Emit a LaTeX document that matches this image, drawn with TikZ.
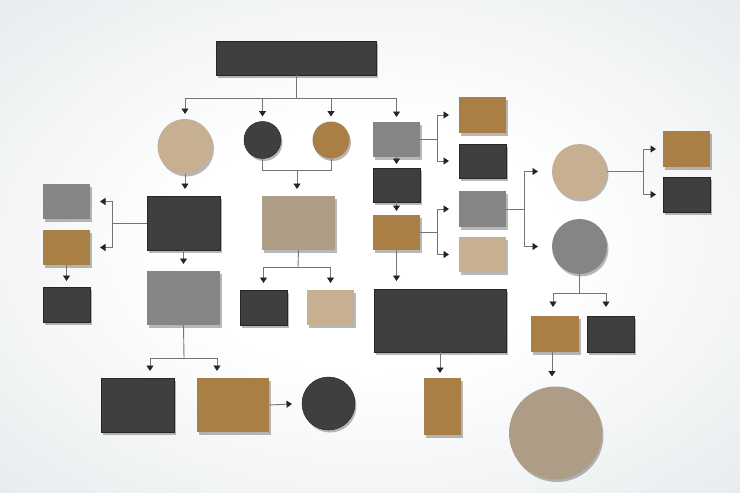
\documentclass[tikz,border=0pt]{standalone}
\usetikzlibrary{arrows.meta,shadows}
\definecolor{cdark}{HTML}{3E403F}
\definecolor{cgrey}{HTML}{838685}
\definecolor{cbrown}{HTML}{A97F46}
\definecolor{ctan}{HTML}{C7AF91}
\definecolor{ctaupe}{HTML}{AE9D86}
\definecolor{cline}{HTML}{757575}
\definecolor{carrow}{HTML}{252525}
\definecolor{bgin}{HTML}{E6EAEC}
\definecolor{bgmid}{HTML}{DCE1E4}
\definecolor{bgedge}{HTML}{D2D8DB}
\pgfdeclareradialshading{bgshade}{\pgfpoint{0bp}{0bp}}{color(0bp)=(white); color(12bp)=(white); color(36bp)=(bgin); color(50bp)=(bgmid); color(72bp)=(bgedge)}
\begin{document}
\begin{tikzpicture}[x=1pt,y=-1pt,
  shape base/.style={inner sep=0pt, outer sep=0pt,
    drop shadow={shadow xshift=1.5pt, shadow yshift=-2.5pt, opacity=0.28, fill=black}},
  boxnode/.style={shape base, rectangle},
  roundnode/.style={shape base, circle},
  darkfill/.style={fill=cdark, draw=black!85, line width=0.5pt},
  greyfill/.style={fill=cgrey},
  brownfill/.style={fill=cbrown},
  tanfill/.style={fill=ctan},
  taupefill/.style={fill=ctaupe},
  wire/.style={draw=cline, line width=0.9pt},
  arr/.style={wire, -{Triangle[width=7pt,length=5.5pt,color=carrow]}, shorten >=5pt},
  harr/.style={arr, shorten >=10pt},
]
\useasboundingbox (0,0) rectangle (740,493);
\shade[shading=bgshade] (-20,-10) rectangle (760,503);

% ---- nodes ----
\node[boxnode, darkfill, minimum width=160pt, minimum height=34pt] (t) at (296,58) {};
\node[roundnode, tanfill, minimum size=55pt] (c1) at (185,146.5) {};
\node[roundnode, darkfill, minimum size=37pt] (c2) at (262.5,140) {};
\node[roundnode, brownfill, minimum size=37pt] (c3) at (331,140) {};

\node[boxnode, darkfill, minimum width=73pt, minimum height=54pt] (d1) at (183.5,223) {};
\node[boxnode, taupefill, minimum width=73pt, minimum height=54pt] (tg1) at (298.5,223) {};

\node[boxnode, greyfill, minimum width=47pt, minimum height=35pt] (L1) at (66.5,201.5) {};
\node[boxnode, brownfill, minimum width=47pt, minimum height=35pt] (L2) at (66.5,247.5) {};
\node[boxnode, darkfill, minimum width=47pt, minimum height=35pt] (L3) at (66.5,304.5) {};

\node[boxnode, greyfill, minimum width=73pt, minimum height=54pt] (gr2) at (183.5,298) {};
\node[boxnode, darkfill, minimum width=73pt, minimum height=54pt] (d2) at (137.5,405) {};
\node[boxnode, brownfill, minimum width=72pt, minimum height=54pt] (b2) at (233,405) {};
\node[roundnode, darkfill, minimum size=53pt] (cd) at (328.5,403.5) {};

\node[boxnode, darkfill, minimum width=47pt, minimum height=35pt] (d3) at (263.5,307.5) {};
\node[boxnode, tanfill, minimum width=47pt, minimum height=35pt] (t3) at (330.5,307.5) {};

\node[boxnode, greyfill, minimum width=47pt, minimum height=35pt] (g1) at (396.5,139.5) {};
\node[boxnode, darkfill, minimum width=47pt, minimum height=34pt] (d4) at (396.5,185) {};
\node[boxnode, brownfill, minimum width=47pt, minimum height=35pt] (b4) at (396.5,232.5) {};

\node[boxnode, brownfill, minimum width=47pt, minimum height=36pt] (R1) at (482.5,115) {};
\node[boxnode, darkfill, minimum width=47pt, minimum height=34pt] (R2) at (482.5,161) {};
\node[boxnode, greyfill, minimum width=47pt, minimum height=36pt] (R3) at (482.5,209) {};
\node[boxnode, tanfill, minimum width=47pt, minimum height=35pt] (R4) at (482.5,254.5) {};

\node[roundnode, tanfill, minimum size=55pt] (Ct) at (579.5,171.5) {};
\node[roundnode, greyfill, minimum size=55pt] (Cg) at (579.5,246.5) {};

\node[boxnode, brownfill, minimum width=47pt, minimum height=36pt] (F1) at (686.5,149) {};
\node[boxnode, darkfill, minimum width=47pt, minimum height=35pt] (F2) at (686.5,194.5) {};

\node[boxnode, brownfill, minimum width=48pt, minimum height=36pt] (G1) at (555,334) {};
\node[boxnode, darkfill, minimum width=47pt, minimum height=36pt] (G2) at (610.5,334) {};
\node[roundnode, taupefill, minimum size=93pt] (CB) at (555.5,433) {};

\node[boxnode, darkfill, minimum width=132pt, minimum height=63pt] (BD) at (440,320.5) {};
\node[boxnode, brownfill, minimum width=37pt, minimum height=57pt] (BT) at (442.5,406.5) {};

% ---- junction points ----
\coordinate (j1) at (296,98);
\coordinate (j2) at (297,170);
\coordinate (j3) at (112,223);
\coordinate (j4) at (184,358);
\coordinate (j5) at (298,267);
\coordinate (j6) at (437,139.5);
\coordinate (j7) at (437,232.5);
\coordinate (j8) at (524,209);
\coordinate (j9) at (643,171.5);
\coordinate (j10) at (579.5,293);

% ---- connectors ----
\draw[wire] (t.south) -- (j1);
\draw[arr] (j1) -| (c1.north);
\draw[arr] (j1) -| (c2.north);
\draw[arr] (j1) -| (c3.north);
\draw[arr] (j1) -| (g1.north);

\draw[wire] (c2.south) |- (j2);
\draw[wire] (c3.south) |- (j2);
\draw[arr, shorten >=7pt] (j2) -- (j2 |- tg1.north);

\draw[arr, shorten >=7pt] (c1.south) -- (c1.south |- d1.north);

\draw[wire] (d1.west) -- (j3);
\draw[harr] (j3) |- (L1.east);
\draw[harr] (j3) |- (L2.east);
\draw[arr, shorten >=6pt] (L2.south) -- (L3.north);

\draw[arr, shorten >=7pt] (d1.south) -- (gr2.north);
\draw[wire] (gr2.south) -- (j4);
\draw[arr, shorten >=7pt] (j4) -| ([xshift=12.5pt]d2.north);
\draw[arr, shorten >=7pt] (j4) -| ([xshift=-16pt]b2.north);
\draw[harr] (b2.east) -- (cd.west);

\draw[wire] (tg1.south) -- (j5);
\draw[arr, shorten >=7pt] (j5) -| (d3.north);
\draw[arr, shorten >=7pt] (j5) -| (t3.north);

\draw[arr, shorten >=4pt] (g1.south) -- (d4.north);
\draw[arr, shorten >=4pt] (d4.south) -- (b4.north);

\draw[wire] (g1.east) -- (j6);
\draw[harr] (j6) |- (R1.west);
\draw[harr] (j6) |- (R2.west);
\draw[wire] (b4.east) -- (j7);
\draw[harr] (j7) |- (R3.west);
\draw[harr] (j7) |- (R4.west);

\draw[wire] (R3.east) -- (j8);
\draw[arr, shorten >=14pt] (j8) |- (Ct.west);
\draw[arr, shorten >=14pt] (j8) |- (Cg.west);

\draw[wire] (Ct.east) -- (j9);
\draw[arr, shorten >=7pt] (j9) |- (F1.west);
\draw[arr, shorten >=7pt] (j9) |- (F2.west);

\draw[wire] (Cg.south) -- (j10);
\draw[arr, shorten >=9pt] (j10) -| ([xshift=-2pt]G1.north);
\draw[arr, shorten >=9pt] (j10) -| ([xshift=-4.5pt]G2.north);
\draw[arr, shorten >=10pt] ([xshift=-3pt]G1.south) -- ([xshift=-3pt]G1.south |- CB.north);

\draw[arr, shorten >=8pt] (b4.south) -- (b4.south |- BD.north);
\draw[arr, shorten >=5pt] (BD.south) -- (BD.south |- BT.north);
\end{tikzpicture}
\end{document}
